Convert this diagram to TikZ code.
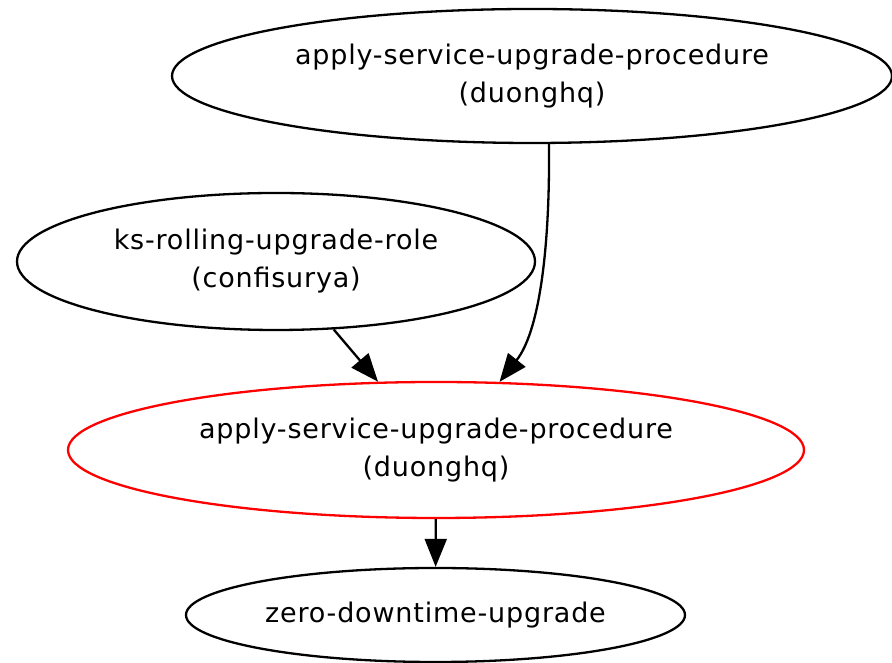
\documentclass[tikz,border=0pt]{standalone}
\usepackage{fontspec}
\setmainfont{DejaVu Sans}[LetterSpace=3]
\usetikzlibrary{arrows.meta,shapes.geometric}
\begin{document}
\begin{tikzpicture}[x=1pt,y=1pt,
  oval/.style={ellipse, draw, line width=2.3pt, inner sep=0pt, align=center,
    font=\fontsize{27}{38}\selectfont},
  link/.style={draw, line width=2.3pt, -{Triangle[length=28pt,width=22pt]}}]
\useasboundingbox (0,0) rectangle (892,663);
% task nodes
\node[oval, minimum width=720pt, minimum height=134pt] (up) at (532,587)
  {apply-service-upgrade-procedure\\(duonghq)};
\node[oval, minimum width=518pt, minimum height=137pt] (ks) at (276,401.5)
  {ks-rolling-upgrade-role\\(confisurya)};
\node[oval, draw=red, minimum width=736pt, minimum height=136pt] (cur) at (436,213)
  {apply-service-upgrade-procedure\\(duonghq)};
\node[oval, minimum width=499pt, minimum height=94pt] (zd) at (435.5,48)
  {zero-downtime-upgrade};
% dependencies
\draw[link] (up.-76.6) .. controls (550,430) and (542,335) .. (cur.47.2);
\draw[link] (ks) -- (cur);
\draw[link] (cur) -- (zd);
\end{tikzpicture}
\end{document}
